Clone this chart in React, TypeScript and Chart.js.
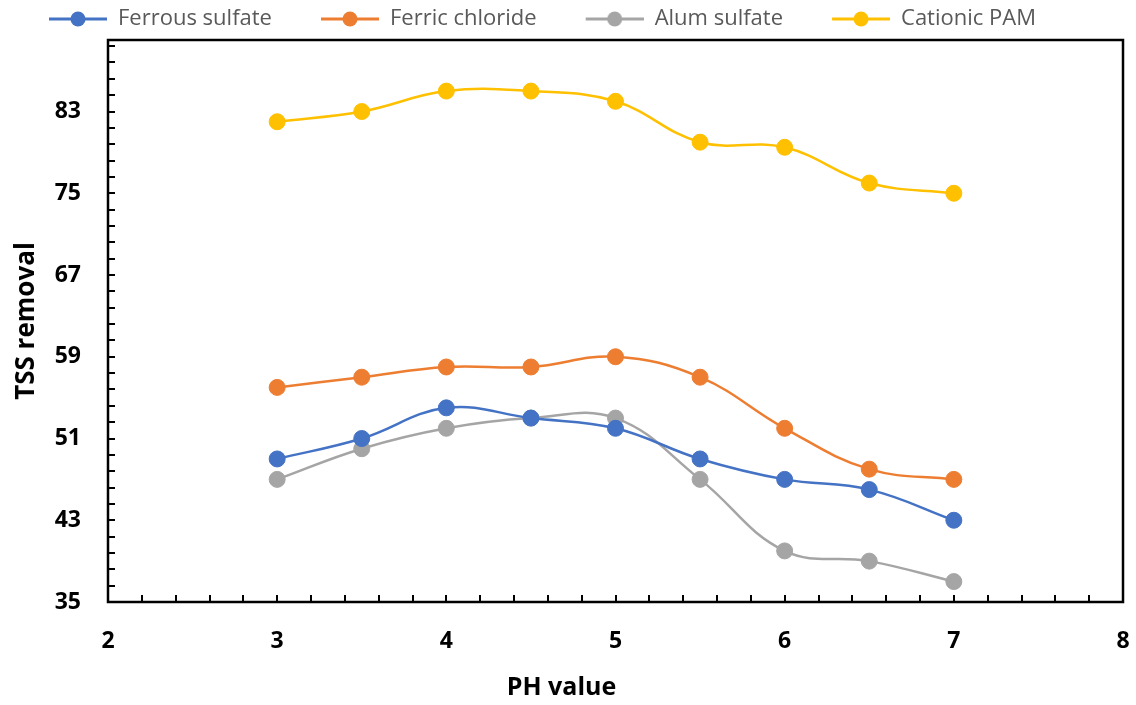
import React, { useEffect, useRef } from 'react';
import { Chart, registerables } from 'chart.js';

Chart.register(...registerables);

// ---- data ----
const phValues = [3, 3.5, 4, 4.5, 5, 5.5, 6, 6.5, 7];
const ferrousSulfate = [49, 51, 54, 53, 52, 49, 47, 46, 43];
const ferricChloride = [56, 57, 58, 58, 59, 57, 52, 48, 47];
const alumSulfate = [47, 50, 52, 53, 53, 47, 40, 39, 37];
const cationicPAM = [82, 83, 85, 85, 84, 80, 79.5, 76, 75];
const seriesNames = ['Ferrous sulfate', 'Ferric chloride', 'Alum sulfate', 'Cationic PAM'];
const seriesColors = ['#4472C4', '#ED7D31', '#A5A5A5', '#FFC000'];
const xTickValues = [2, 3, 4, 5, 6, 7, 8];
const yTickValues = [35, 43, 51, 59, 67, 75, 83];
const xTitle = 'PH value';
const yTitle = 'TSS removal';

const X_MIN = 2, X_MAX = 8, X_MINOR = 0.2;
const Y_MIN = 35, Y_MAX = 90, Y_MINOR = 1.6;
const FONT = "'Open Sans', 'DejaVu Sans', sans-serif";

function makeMarker(color: string): HTMLCanvasElement {
  const c = document.createElement('canvas');
  const gap = 41, w = 58, h = 18;
  c.width = gap + w;
  c.height = h;
  const ctx = c.getContext('2d')!;
  ctx.strokeStyle = color;
  ctx.lineWidth = 3;
  ctx.beginPath();
  ctx.moveTo(gap, h / 2);
  ctx.lineTo(gap + w, h / 2);
  ctx.stroke();
  ctx.fillStyle = color;
  ctx.beginPath();
  ctx.arc(gap + w / 2, h / 2, 7.5, 0, Math.PI * 2);
  ctx.fill();
  return c;
}

const frameTicksPlugin = {
  id: 'frameTicks',
  beforeDatasetsDraw(chart: any) {
    const { ctx, chartArea } = chart;
    const xs = chart.scales.x;
    const ys = chart.scales.y;
    const { left, right, top, bottom } = chartArea;
    ctx.save();
    ctx.strokeStyle = '#000';
    ctx.lineWidth = 2;
    const tl = 7;
    const nx = Math.round((X_MAX - X_MIN) / X_MINOR);
    for (let i = 1; i < nx; i++) {
      const px = Math.round(xs.getPixelForValue(X_MIN + i * X_MINOR));
      ctx.beginPath();
      ctx.moveTo(px, bottom);
      ctx.lineTo(px, bottom - tl);
      ctx.stroke();
    }
    for (let i = 1; Y_MIN + i * Y_MINOR < Y_MAX - 1e-6; i++) {
      const py = Math.round(ys.getPixelForValue(Y_MIN + i * Y_MINOR));
      ctx.beginPath();
      ctx.moveTo(left, py);
      ctx.lineTo(left + tl, py);
      ctx.stroke();
    }
    ctx.lineWidth = 2.5;
    ctx.strokeRect(left, top, right - left, bottom - top);
    ctx.restore();
  },
};

export default function App() {
  const ref = useRef<HTMLCanvasElement | null>(null);
  useEffect(() => {
    document.body.style.margin = '0';
    const canvas = ref.current!;
    const datasets = [ferrousSulfate, ferricChloride, alumSulfate, cationicPAM].map((arr, k) => ({
      label: seriesNames[k],
      data: phValues.map((x, i) => ({ x, y: arr[i] })),
      borderColor: seriesColors[k],
      backgroundColor: seriesColors[k],
      pointBackgroundColor: seriesColors[k],
      pointBorderColor: seriesColors[k],
      pointRadius: 8,
      pointBorderWidth: 1,
      borderWidth: 2.5,
      tension: 0.4,
      fill: false,
    }));
    const markers = seriesColors.map(makeMarker);
    const chart = new Chart(canvas, {
      type: 'line',
      data: { datasets },
      plugins: [frameTicksPlugin],
      options: {
        animation: false,
        responsive: false,
        layout: { padding: { top: 0, right: 13, left: 0, bottom: 0 } },
        scales: {
          x: {
            type: 'linear',
            min: X_MIN,
            max: X_MAX,
            afterBuildTicks: (scale: any) => {
              scale.ticks = xTickValues.map((v) => ({ value: v }));
            },
            afterFit: (scale: any) => {
              scale.height = 71;
              scale.paddingLeft = 0;
              scale.paddingRight = 0;
            },
            grid: { display: false, drawTicks: false },
            border: { display: false },
            ticks: {
              padding: 26,
              color: '#000',
              font: { family: FONT, size: 23, weight: 'bold' },
              callback: (v: any) => String(v),
            },
            title: { display: false },
          },
          y: {
            type: 'linear',
            min: Y_MIN,
            max: Y_MAX,
            afterBuildTicks: (scale: any) => {
              scale.ticks = yTickValues.map((v) => ({ value: v }));
            },
            afterFit: (scale: any) => {
              scale.width = 108;
              scale.paddingTop = 0;
              scale.paddingBottom = 0;
            },
            grid: { display: false, drawTicks: false },
            border: { display: false },
            ticks: {
              padding: 27,
              color: '#000',
              font: { family: FONT, size: 23, weight: 'bold' },
              callback: (v: any) => String(v),
            },
            title: {
              display: true,
              text: yTitle,
              color: '#000',
              font: { family: FONT, size: 26, weight: 'bold' },
              padding: { top: 11, bottom: 0 },
            },
          },
        },
        plugins: {
          title: {
            display: true,
            text: xTitle,
            position: 'bottom',
            color: '#000',
            font: { family: FONT, size: 25, weight: 'bold' },
            padding: { top: 0, bottom: 2 },
          },
          tooltip: { enabled: false },
          legend: {
            display: true,
            position: 'top',
            align: 'start',
            labels: {
              usePointStyle: true,
              pointStyleWidth: 99,
              padding: 8,
              color: '#595959',
              font: { family: FONT, size: 22 },
              generateLabels: (ch: any) => {
                const items = (Chart as any).defaults.plugins.legend.labels.generateLabels(ch);
                return items.map((it: any, i: number) => ({ ...it, pointStyle: markers[i] }));
              },
            },
          },
        },
      } as any,
    });
    return () => chart.destroy();
  }, []);
  return (
    <div style={{ width: 1136, height: 705 }}>
      <canvas ref={ref} width={1136} height={705} style={{ display: 'block' }} />
    </div>
  );
}
